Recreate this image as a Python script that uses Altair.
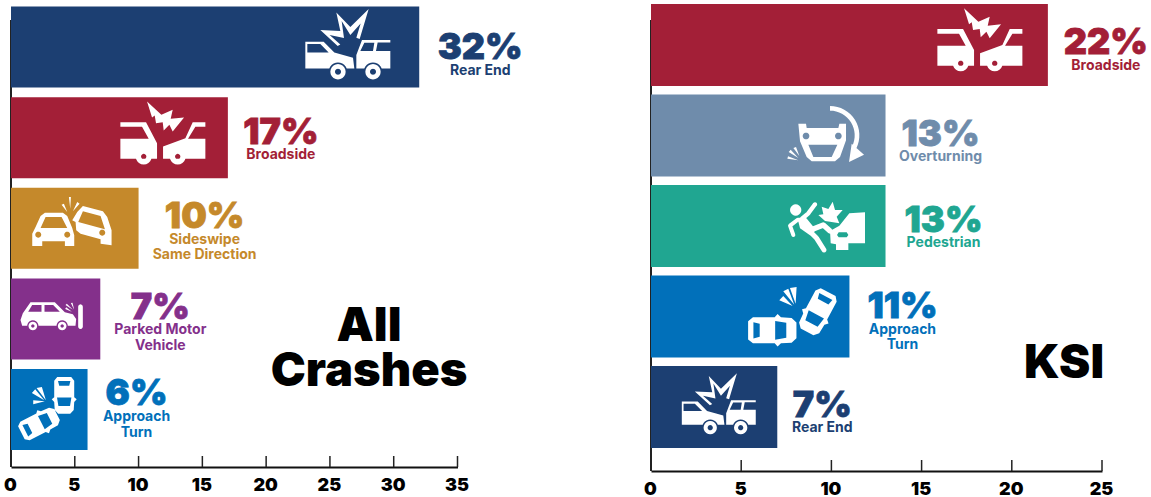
import math
import altair as alt
import pandas as pd

# --- values -------------------------------------------------------------
ALL_CATS = ["Rear End", "Broadside", "Sideswipe\nSame Direction", "Parked Motor\nVehicle", "Approach\nTurn"]
ALL_VALUES = [32, 17, 10, 7, 6]
ALL_COLORS = ["#1c3f72", "#a31f37", "#c5892b", "#84308b", "#0170ba"]
ALL_TICKS = [0, 5, 10, 15, 20, 25, 30, 35]

KSI_CATS = ["Broadside", "Overturning", "Pedestrian", "Approach\nTurn", "Rear End"]
KSI_VALUES = [22, 13, 13, 11, 7]
KSI_COLORS = ["#a31f37", "#6f8cab", "#20a691", "#0170ba", "#1c3f72"]
KSI_TICKS = [0, 5, 10, 15, 20, 25]

# --- pictogram helpers: shapes are built in a 3x grid, then centred ------
def area(p):
    return sum(p[i][0] * p[(i + 1) % len(p)][1] - p[(i + 1) % len(p)][0] * p[i][1] for i in range(len(p)))

def solid(p):
    return [list(p if area(p) > 0 else p[::-1])]

def hole(p, times=1):
    return [list(p if area(p) < 0 else p[::-1])] * times

def ring(cx, cy, r, n=20):
    return [(cx + r * math.cos(2 * math.pi * i / n), cy + r * math.sin(2 * math.pi * i / n)) for i in range(n)]

def arch(cx, cy, r, base):
    # wheel arch walked right to left along the underside of a body
    a = math.asin(min(1, (cy - base) / r))
    return [(cx + r * math.cos(a + (math.pi - 2 * a) * i / 10), cy - r * math.sin(a + (math.pi - 2 * a) * i / 10)) for i in range(11)]

def limb(pts, w):
    out = []
    for (x0, y0), (x1, y1) in zip(pts, pts[1:]):
        d = math.hypot(x1 - x0, y1 - y0)
        nx, ny = -(y1 - y0) / d * w / 2, (x1 - x0) / d * w / 2
        out += solid([(x0 + nx, y0 + ny), (x1 + nx, y1 + ny), (x1 - nx, y1 - ny), (x0 - nx, y0 - ny)])
    for x, y in pts:
        out += solid(ring(x, y, w / 2, 12))
    return out

def top_car(cx, cy, L, W, deg):
    a = math.radians(deg)
    def t(p):
        return [(cx + x * W / 2 * math.cos(a) - y * L / 2 * math.sin(a), cy + x * W / 2 * math.sin(a) + y * L / 2 * math.cos(a)) for x, y in p]
    body = [(-.7, -1), (.7, -1), (1, -.8), (1, .1), (1.25, .22), (1, .36), (.95, .8), (.6, 1), (-.6, 1), (-.95, .8), (-1, .36), (-1.25, .22), (-1, .1), (-1, -.8)]
    rear = [(-.62, -.78), (.62, -.78), (.5, -.52), (-.5, -.52)]
    front = [(-.72, .12), (.72, .12), (.58, .58), (-.58, .58)]
    return solid(t(body)) + hole(t(rear)) + hole(t(front))

def to_path(parts, w, h):
    s = ""
    for p in parts:
        s += "M" + "L".join(f"{(x - w / 2) / 3:.2f},{(y - h / 2) / 3:.2f}" for x, y in p) + "Z"
    return s

# --- pictograms ----------------------------------------------------------
REAR_END = to_path(
    solid([(60, 75), (120, 78), (108, 22), (150, 66), (205, 12), (178, 102), (168, 98), (181, 55), (150, 90), (124, 48), (131, 99), (88, 90), (120, 118), (112, 123)])
    + solid([(15, 110), (70, 110), (102, 142), (158, 158), (162, 190)] + arch(113, 200, 28, 190) + [(15, 190)])
    + hole([(21, 117), (60, 117), (85, 142), (21, 142)])
    + solid([(185, 105), (270, 105), (270, 112), (232, 112), (227, 138), (270, 138), (270, 190)] + arch(218, 200, 28, 190) + [(168, 190), (168, 150)])
    + hole([(192, 113), (222, 113), (218, 138), (180, 138)])
    + solid(ring(113, 200, 23)) + hole(ring(113, 200, 9))
    + solid(ring(218, 200, 23)) + hole(ring(218, 200, 9)),
    285, 240)

BROADSIDE = to_path(
    solid([(95, 10), (138, 50), (172, 35), (166, 62), (206, 58), (172, 100), (162, 80), (145, 97), (142, 72), (122, 75), (118, 52), (110, 58)])
    + solid([(15, 72), (92, 72), (125, 135), (125, 182), (15, 182), (15, 122), (100, 122), (80, 86), (15, 86)])
    + solid([(143, 145), (210, 120), (232, 72), (270, 72), (270, 86), (240, 86), (218, 122), (270, 122), (270, 182), (143, 182)])
    + solid(ring(85, 175, 24)) + hole(ring(85, 175, 8), 2)
    + solid(ring(187, 175, 24)) + hole(ring(187, 175, 8), 2),
    285, 225)

SIDESWIPE = to_path(
    solid([(58, 62), (112, 62), (125, 72), (140, 108), (146, 130), (146, 162), (118, 162), (118, 148), (50, 148), (50, 162), (20, 162), (20, 125), (30, 105), (45, 72)])
    + hole([(60, 75), (108, 75), (125, 108), (45, 108)])
    + hole(ring(38, 128, 9)) + hole(ring(125, 128, 9))
    + solid([(172, 42), (232, 58), (245, 75), (258, 115), (258, 160), (225, 155), (225, 142), (165, 125), (152, 115), (150, 90), (140, 85), (155, 60)])
    + hole([(172, 58), (225, 72), (238, 112), (158, 90)])
    + hole(ring(230, 122, 9))
    + solid([(108, 38), (115, 35), (125, 60)])
    + solid([(130, 15), (136, 15), (134, 50)])
    + solid([(155, 30), (162, 35), (142, 58)]),
    270, 210)

PARKED = to_path(
    solid([(45, 22), (118, 22), (148, 52), (172, 58), (182, 72), (180, 92)] + arch(140, 93, 17, 92) + arch(52, 93, 17, 92) + [(20, 92), (15, 75), (22, 55)])
    + hole([(50, 30), (78, 30), (78, 50), (38, 50)])
    + hole([(87, 30), (113, 30), (133, 50), (87, 50)])
    + solid(ring(52, 93, 13)) + hole(ring(52, 93, 5))
    + solid(ring(140, 93, 13)) + hole(ring(140, 93, 5))
    + limb([(195, 35), (195, 95)], 14)
    + solid([(150, 30), (154, 26), (172, 44)])
    + solid([(149, 42), (152, 37), (169, 50)])
    + solid([(166, 24), (171, 23), (176, 44)]),
    225, 135)

APPROACH_LOW = to_path(
    top_car(155, 70, 110, 60, 0) + top_car(80, 155, 120, 62, -117)
    + solid([(72, 48), (88, 45), (100, 85)])
    + solid([(58, 63), (68, 52), (95, 85)])
    + solid([(62, 85), (62, 97), (97, 88)]),
    216, 234)

APPROACH_HIGH = to_path(
    top_car(82, 145, 145, 78, -90) + top_car(218, 90, 135, 72, 28)
    + solid([(135, 18), (155, 15), (152, 65)])
    + solid([(115, 28), (130, 20), (148, 68)])
    + solid([(103, 55), (115, 42), (143, 72)]),
    294, 210)

ARROW_ARC = [(-90 + 116 * i / 16) for i in range(17)]
OVERTURNING = to_path(
    solid([(55, 65), (78, 65), (80, 78), (175, 78), (178, 65), (198, 65), (198, 115), (180, 165), (165, 178), (95, 178), (80, 165), (60, 118)])
    + hole([(85, 128), (172, 128), (155, 165), (100, 165)])
    + hole(ring(78, 102, 10)) + hole(ring(175, 102, 10))
    + solid([(150 + 88 * math.cos(math.radians(a)), 100 + 88 * math.sin(math.radians(a))) for a in ARROW_ARC]
            + [(150 + 74 * math.cos(math.radians(a)), 100 + 74 * math.sin(math.radians(a))) for a in ARROW_ARC[::-1]])
    + solid([(207, 180), (215, 125), (252, 158)])
    + solid([(40, 138), (48, 135), (58, 162)])
    + solid([(26, 150), (32, 143), (55, 168)])
    + solid([(22, 170), (24, 163), (55, 175)]),
    270, 210)

PEDESTRIAN = to_path(
    solid(ring(47, 45, 17))
    + solid([(52, 68), (78, 68), (108, 105), (92, 122), (60, 100)])
    + limb([(65, 72), (85, 55), (105, 28)], 13)
    + limb([(52, 75), (30, 92), (40, 120)], 12)
    + limb([(92, 105), (130, 90), (150, 108)], 16)
    + limb([(95, 115), (110, 130), (132, 165)], 15)
    + solid([(115, 60), (130, 58), (125, 35), (145, 42), (158, 20), (165, 45), (188, 45), (170, 65), (178, 85), (150, 80), (135, 78)])
    + solid([(255, 52), (208, 55), (178, 92), (150, 108), (152, 145), (168, 148), (168, 165), (205, 165), (205, 145), (255, 145)])
    + hole([(176, 112), (200, 112), (205, 120), (200, 127), (176, 127), (171, 120)]),
    300, 216)

# icon, scale, x shift from the bar end, y shift from the band centre
ALL_ICONS = [(REAR_END, 1, -71.4, -2), (BROADSIDE, 1, -65, -2), (SIDESWIPE, 1, -68, -1.3), (PARKED, 1, -47.3, -1.4), (APPROACH_LOW, 1, -39, 1.5)]
KSI_ICONS = [(BROADSIDE, 1, -68, -2.5), (OVERTURNING, 1, -60.5, 1.5), (PEDESTRIAN, 1, -55.5, 5), (APPROACH_HIGH, 1, -55.5, 0.5), (REAR_END, 0.87, -58.5, -2.5)]

# label placement: x shift, percent y shift, category y shift
ALL_LABELS = [(61, 53, 66, 60, 49), (0.5, -4.5, -11.5, -10.5, -15.5), (23.5, 17.5, 11.5, 11.5, 7.5)]
KSI_LABELS = [(58, 55, 58, 53, 45), (-1.5, 0, -5.5, -9.5, -1), (21, 22, 17, 13, 21)]

FONT = "Inter"

def panel(cats, values, colors, ticks, icons, labels, plot_w, axis_w, plot_h, band_range, inner, title, title_xy):
    df = pd.DataFrame({"cat": cats, "value": values, "color": colors})
    x = alt.X("value:Q", scale=alt.Scale(domain=[ticks[0], ticks[-1]], range=[0, axis_w], nice=False),
              axis=alt.Axis(values=ticks, title=None, grid=False, tickSize=0, domainColor="#111", domainWidth=2,
                            labelFont=FONT, labelFontSize=18, labelFontWeight=900, labelColor="#000",
                            labelPadding=9, labelOffset=-1, labelFlush=False, format="d"))
    y = alt.Y("cat:N", sort=cats, title=None, axis=None,
              scale=alt.Scale(domain=cats, range=band_range, paddingInner=inner, paddingOuter=0))
    tdf = pd.DataFrame({"value": ticks})
    tick_marks = alt.Chart(tdf).mark_rule(color="#222", strokeWidth=1.5).encode(
        x=x, y=alt.value(plot_h - 11), y2=alt.value(plot_h))
    left_line = alt.Chart(tdf.head(1)).mark_rule(color="#222", strokeWidth=2).encode(
        x=x, y=alt.value(20), y2=alt.value(plot_h))
    bars = alt.Chart(df).mark_bar(cornerRadius=0).encode(
        x=x, y=y, color=alt.Color("color:N", scale=None))
    layers = [left_line, tick_marks, bars]
    for i, row in df.iterrows():
        one = df.iloc[[i]].assign(pct=f"{row['value']}%")
        icon, s, ix, iy = icons[i]
        layers.append(alt.Chart(one).mark_point(shape=icon, size=4 * s * s, filled=True, fill="white", opacity=1,
                                                strokeWidth=0, xOffset=ix, yOffset=iy).encode(x=x, y=y))
        layers.append(alt.Chart(one).mark_text(font=FONT, fontSize=36, fontWeight=900, align="center", baseline="middle",
                                               dx=labels[0][i], dy=labels[1][i], color=row["color"],
                                               stroke=row["color"], strokeWidth=0.8).encode(x=x, y=y, text="pct:N"))
        layers.append(alt.Chart(one).mark_text(font=FONT, fontSize=14, fontWeight=700, align="center", baseline="middle",
                                               lineBreak="\n", lineHeight=15.5, dx=labels[0][i], dy=labels[2][i], color=row["color"],
                                               ).encode(x=x, y=y, text="cat:N"))
    layers.append(alt.Chart(pd.DataFrame({"t": [title]})).mark_text(
        font=FONT, fontSize=47, fontWeight=900, align="center", baseline="middle", lineBreak="\n", lineHeight=45, color="#000"
    ).encode(x=alt.value(title_xy[0]), y=alt.value(title_xy[1]), text="t:N"))
    return alt.layer(*layers).properties(width=plot_w, height=plot_h)

left = panel(ALL_CATS, ALL_VALUES, ALL_COLORS, ALL_TICKS, ALL_ICONS, ALL_LABELS, 620, 446.5, 467, [6.6, 450], 0.106, "All\nCrashes", (358, 327))
right = panel(KSI_CATS, KSI_VALUES, KSI_COLORS, KSI_TICKS, KSI_ICONS, KSI_LABELS, 485, 451, 471, [4, 448], 0.094, "KSI", (413, 364))

chart = alt.hconcat(left, right, spacing=12).properties(
    padding={"left": 3, "top": 0, "right": 0, "bottom": 0}, background="white"
).configure_view(stroke=None)

chart.save("out.html", embed_options={"renderer": "svg", "actions": False})
